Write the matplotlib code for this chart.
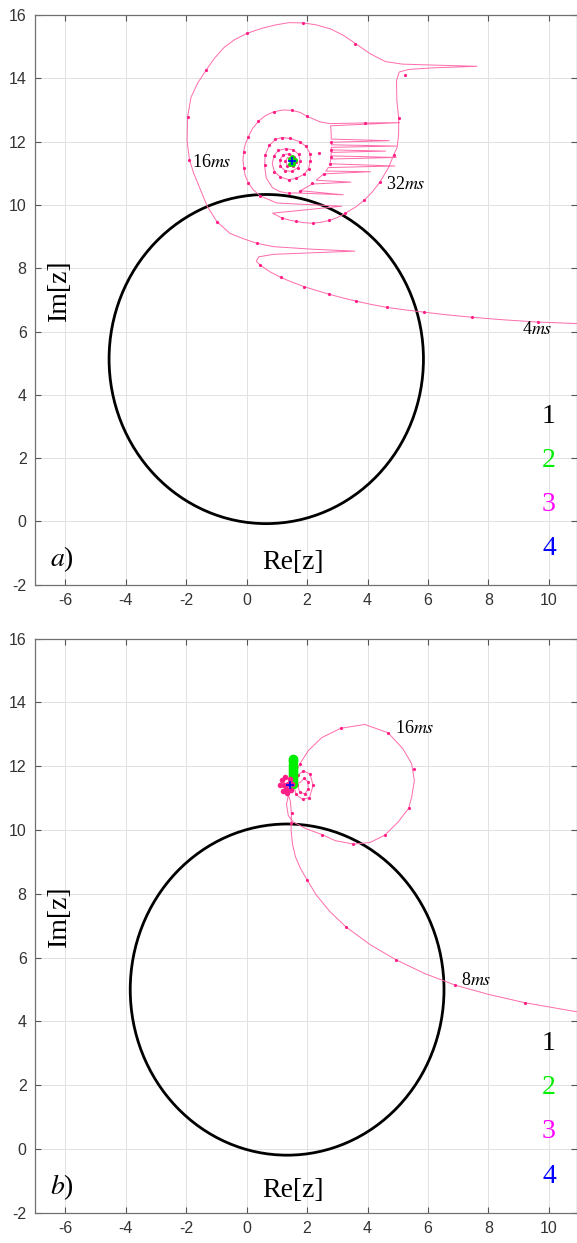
import numpy as np
import matplotlib
matplotlib.use("Agg")
import matplotlib.pyplot as plt
from matplotlib.patches import Circle

plt.rcParams['mathtext.fontset'] = 'stix'
plt.rcParams['font.family'] = ['Liberation Sans', 'DejaVu Sans']
plt.rcParams['axes.unicode_minus'] = False

# circle (curve 1) for each panel: centre and radius
circ_a = (0.65, 5.13, 5.2)
circ_b = (1.34, 5.0, 5.19)

# panel a) trajectory (curve 3), time order from the right
traj_a = np.array([
    (10.95, 6.25), (9.63, 6.30), (8.5, 6.37), (7.46, 6.45), (6.6, 6.53), (5.88, 6.61),
    (5.2, 6.69), (4.65, 6.76), (4.1, 6.86), (3.62, 6.96), (3.15, 7.07), (2.73, 7.18),
    (2.3, 7.3), (1.9, 7.42), (1.5, 7.56), (1.13, 7.71), (0.75, 7.9), (0.45, 8.1),
    (0.32, 8.22), (0.4, 8.36), (0.9, 8.44), (2.2, 8.49), (3.58, 8.54), (2.2, 8.6),
    (0.9, 8.68), (0.33, 8.79), (-0.1, 8.93), (-0.55, 9.1), (-0.98, 9.47),
    (-1.3, 9.95), (-1.56, 10.56), (-1.75, 11.0), (-1.89, 11.42), (-1.97, 12.03),
    (-1.95, 12.79), (-1.84, 13.4), (-1.62, 13.85), (-1.34, 14.26), (-1.05, 14.65),
    (-0.74, 14.98), (-0.4, 15.22), (0.01, 15.42), (0.5, 15.58), (0.97, 15.69),
    (1.4, 15.76), (1.88, 15.75), (2.3, 15.69), (2.78, 15.56), (3.2, 15.36), (3.6, 15.1),
    (4.1, 14.77), (4.59, 14.53), (5.14, 14.45), (6.13, 14.42), (7.62, 14.38),
    (6.13, 14.33), (5.36, 14.28), (5.05, 14.2), (4.96, 13.93), (4.97, 13.3),
    (5.03, 12.75), (5.03, 12.24), (4.98, 11.82), (4.87, 11.59), (4.7, 11.19),
    (4.41, 10.72), (4.15, 10.4), (3.88, 10.14), (3.6, 9.93), (3.27, 9.74),
    (3.0, 9.6), (2.73, 9.51), (2.45, 9.45), (2.18, 9.42), (1.9, 9.44), (1.63, 9.48),
    (1.38, 9.53), (1.16, 9.59), (0.86, 9.74),
    (3.15, 9.96), (1.0, 10.06), (0.44, 10.29),
    (0.2, 10.5), (0.06, 10.70), (-0.05, 10.93), (-0.09, 11.17), (-0.12, 11.42),
    (-0.1, 11.68), (-0.04, 11.93), (0.06, 12.16), (0.2, 12.42), (0.39, 12.64),
    (0.62, 12.82), (0.89, 12.94), (1.2, 13.0), (1.5, 12.99), (1.78, 12.92),
    (2.0, 12.8), (2.44, 12.62), (2.76, 12.57),
    (3.91, 12.59), (5.06, 12.6), (3.9, 12.55), (2.78, 12.5), (2.8, 12.2),
    (2.8, 12.08), (4.72, 12.03), (2.8, 11.98), (2.8, 11.9), (4.95, 11.86),
    (2.8, 11.82), (2.8, 11.74), (4.6, 11.7), (2.8, 11.66), (2.79, 11.55),
    (4.95, 11.5), (2.78, 11.45), (2.76, 11.3), (4.9, 11.23), (2.7, 11.18),
    (2.62, 11.07), (4.1, 11.05), (2.55, 10.98), (2.3, 10.78), (3.45, 10.72),
    (2.17, 10.66), (1.78, 10.45), (3.2, 10.32), (1.6, 10.38), (1.39, 10.37),
    (1.1, 10.42), (0.85, 10.55), (0.65, 10.85), (0.6, 11.2),
    (0.61, 11.57), (0.75, 11.88), (0.95, 12.07), (1.17, 12.13), (1.45, 12.1),
    (1.75, 12.0), (1.97, 11.85), (2.1, 11.62), (2.11, 11.4), (2.05, 11.15),
    (1.9, 10.97), (1.65, 10.84), (1.39, 10.8), (1.12, 10.88), (0.92, 11.05),
    (0.85, 11.3), (0.9, 11.55), (1.05, 11.72), (1.3, 11.78), (1.55, 11.74),
    (1.72, 11.6), (1.78, 11.38), (1.7, 11.18), (1.5, 11.06), (1.28, 11.08),
    (1.12, 11.22), (1.1, 11.42), (1.2, 11.58), (1.4, 11.62), (1.58, 11.52),
    (1.62, 11.35), (1.52, 11.22), (1.35, 11.24), (1.28, 11.38), (1.36, 11.5),
    (1.5, 11.46), (1.48, 11.38),
])

# time marks on the panel a) trajectory
marks_a = np.array([
    (9.63, 6.30), (7.46, 6.45), (5.88, 6.61), (4.65, 6.76), (3.62, 6.96), (2.73, 7.18),
    (1.9, 7.42), (1.13, 7.71), (0.45, 8.1), (0.33, 8.79), (-0.98, 9.47), (-1.89, 11.42),
    (-1.95, 12.79), (-1.34, 14.26), (0.01, 15.42), (1.88, 15.75), (3.6, 15.1),
    (5.23, 14.12), (5.03, 12.75), (3.91, 12.59), (4.87, 11.59), (4.41, 10.72),
    (3.88, 10.14), (3.27, 9.74), (2.73, 9.51), (2.18, 9.42), (1.63, 9.48), (1.16, 9.59),
    (0.44, 10.29), (0.06, 10.70), (-0.09, 11.17), (-0.1, 11.68), (0.06, 12.16),
    (0.39, 12.64), (0.89, 12.94), (1.5, 12.99), (2.0, 12.8), (2.8, 12.0), (2.8, 11.75),
    (2.79, 11.52), (2.76, 11.3), (2.56, 10.98), (2.17, 10.7), (1.78, 10.45),
    (1.39, 10.37), (2.39, 11.63),
    (0.61, 11.57), (0.75, 11.88), (0.95, 12.07), (1.17, 12.13), (1.45, 12.1),
    (1.75, 12.0), (1.97, 11.85), (2.1, 11.62), (2.11, 11.4), (2.05, 11.15),
    (1.9, 10.97), (1.65, 10.84), (1.39, 10.8), (1.12, 10.88), (0.92, 11.05),
    (0.62, 11.25),
    (0.9, 11.55), (1.05, 11.72), (1.3, 11.78), (1.55, 11.74), (1.72, 11.6),
    (1.78, 11.38), (1.7, 11.18), (1.5, 11.06), (1.28, 11.08), (1.12, 11.22), (1.1, 11.42),
    (1.2, 11.58), (1.4, 11.62), (1.58, 11.52), (1.62, 11.35), (1.52, 11.22),
    (1.35, 11.24), (1.28, 11.38),
])

green_a = np.array([(1.42, 11.45), (1.5, 11.5), (1.6, 11.42), (1.55, 11.3),
                    (1.45, 11.28), (1.5, 11.38)])
end_a = (1.5, 11.38)

# panel b) trajectory (curve 3)
traj_b = np.array([
    (10.95, 4.30), (9.2, 4.59), (8.0, 4.85), (6.9, 5.14), (5.9, 5.5), (4.95, 5.93),
    (4.1, 6.4), (3.28, 6.97), (2.75, 7.45), (2.3, 7.97), (2.0, 8.44), (1.78, 8.8),
    (1.62, 9.15), (1.52, 9.55), (1.47, 10.0), (1.48, 10.5), (1.45, 10.9), (1.38, 11.1),
    (1.32, 10.8), (1.38, 10.45), (1.55, 10.25), (1.95, 10.05), (2.49, 9.86),
    (2.93, 9.67), (3.53, 9.56), (4.08, 9.61), (4.57, 9.84), (5.0, 10.24), (5.36, 10.68),
    (5.46, 11.03), (5.55, 11.55), (5.46, 12.08), (5.17, 12.55), (4.68, 13.05),
    (3.91, 13.31), (3.11, 13.19), (2.49, 12.9), (2.05, 12.5), (1.75, 12.06),
    (1.6, 11.7), (1.57, 11.4), (1.63, 11.12),
    (1.85, 10.96), (2.08, 11.02), (2.2, 11.4), (2.1, 11.75), (1.88, 11.86),
    (1.7, 11.72), (1.68, 11.4), (1.76, 11.18), (1.93, 11.14), (2.04, 11.3),
    (2.03, 11.52), (1.9, 11.62), (1.78, 11.5), (1.6, 11.42), (1.42, 11.4),
])

marks_b = np.array([
    (9.2, 4.59), (6.9, 5.14), (4.95, 5.93), (3.28, 6.97), (2.0, 8.44), (1.47, 10.23),
    (1.5, 10.52), (2.49, 9.86), (3.53, 9.56), (4.57, 9.84), (5.36, 10.68), (5.55, 11.92),
    (4.68, 13.05), (3.11, 13.19), (1.75, 12.06), (1.57, 11.4), (1.63, 11.12),
    (1.85, 10.96), (2.08, 11.02), (2.2, 11.4), (2.1, 11.75), (1.88, 11.86), (1.7, 11.72),
    (1.68, 11.4), (1.76, 11.18), (1.93, 11.14), (2.04, 11.3), (2.03, 11.52), (1.9, 11.62),
])

blob_b = np.array([(1.12, 11.41), (1.16, 11.58), (1.28, 11.66), (1.42, 11.6), (1.5, 11.45),
                   (1.46, 11.26), (1.34, 11.17), (1.2, 11.22), (1.25, 11.4), (1.36, 11.45),
                   (1.3, 11.3)])
green_b_y = [11.45, 11.55, 11.65, 11.75, 11.85, 11.95, 12.05, 12.15, 12.22]
green_b_x = 1.52
end_b = (1.42, 11.4)

# time labels: (x, y, text)
labels_a = [(-1.15, 11.33, '16'), (5.27, 10.66, '32'), (9.6, 6.05, '4')]
labels_b = [(5.56, 13.17, '16'), (7.6, 5.3, '8')]

legend_nums = ['1', '2', '3', '4']
legend_cols = ['black', '#00ee00', '#ff00ff', '#0000ff']
legend_y = [3.32, 1.93, 0.55, -0.87]

line_col = '#ff6aaa'
dot_col = '#ff1f86'
serif = ['Liberation Serif', 'DejaVu Serif']

fig = plt.figure(figsize=(5.77, 12.43), dpi=100)
ax_a = fig.add_axes([0.0607, 0.5296, 0.9393, 0.4583])
ax_b = fig.add_axes([0.0607, 0.0242, 0.9393, 0.4620])


def draw(ax, circ, traj, marks, labels, tag):
    ax.set_xlim(-7, 10.93)
    ax.set_ylim(-2, 16)
    ax.set_xticks(np.arange(-6, 11, 2))
    ax.set_yticks(np.arange(-2, 17, 2))
    ax.grid(True, color='#e2e2e2', lw=0.7)
    ax.set_axisbelow(True)
    for s in ax.spines.values():
        s.set_color('#707070')
        s.set_linewidth(0.9)
    ax.tick_params(direction='in', top=True, right=True, length=4,
                   color='#555555', labelsize=11.5, labelcolor='#333333', pad=6)
    ax.add_patch(Circle((circ[0], circ[1]), circ[2], fill=False, ec='black', lw=2.0, zorder=3))
    ax.plot(traj[:, 0], traj[:, 1], color=line_col, lw=0.7, zorder=4)
    ax.plot(marks[:, 0], marks[:, 1], 'o', color=dot_col, ms=2.3, mec='none', zorder=5)
    for x, y, t in labels:
        ax.text(x, y, t + '$ms$', fontsize=13, family=serif, ha='center', va='center', zorder=6)
    ax.text(-6.2, 7.3, 'Im[z]', rotation=90, fontsize=20, family=serif, ha='center', va='center')
    ax.text(1.52, -1.3, 'Re[z]', fontsize=20, family=serif, ha='center', va='center')
    ax.text(-6.1, -1.2, '$' + tag + '$)', fontsize=20, family=serif, ha='center', va='center')
    for n, c, y in zip(legend_nums, legend_cols, legend_y):
        ax.text(10.0, y, n, color=c, fontsize=20, family=serif, ha='center', va='center')


draw(ax_a, circ_a, traj_a, marks_a, labels_a, 'a')
ax_a.plot(green_a[:, 0], green_a[:, 1], 'o', color='#00dd00', ms=3.5, mec='none', zorder=6)
ax_a.plot(*end_a, '+', color='blue', ms=6, mew=1.2, zorder=7)

draw(ax_b, circ_b, traj_b, marks_b, labels_b, 'b')
ax_b.plot([green_b_x] * len(green_b_y), green_b_y, 'o', color='#00ee00', ms=7, mec='none', zorder=5)
ax_b.plot(blob_b[:, 0], blob_b[:, 1], 'o', color=dot_col, ms=4, mec='none', zorder=6)
ax_b.plot(*end_b, '+', color='blue', ms=6, mew=1.2, zorder=7)

fig.savefig('out.png', dpi=100)
